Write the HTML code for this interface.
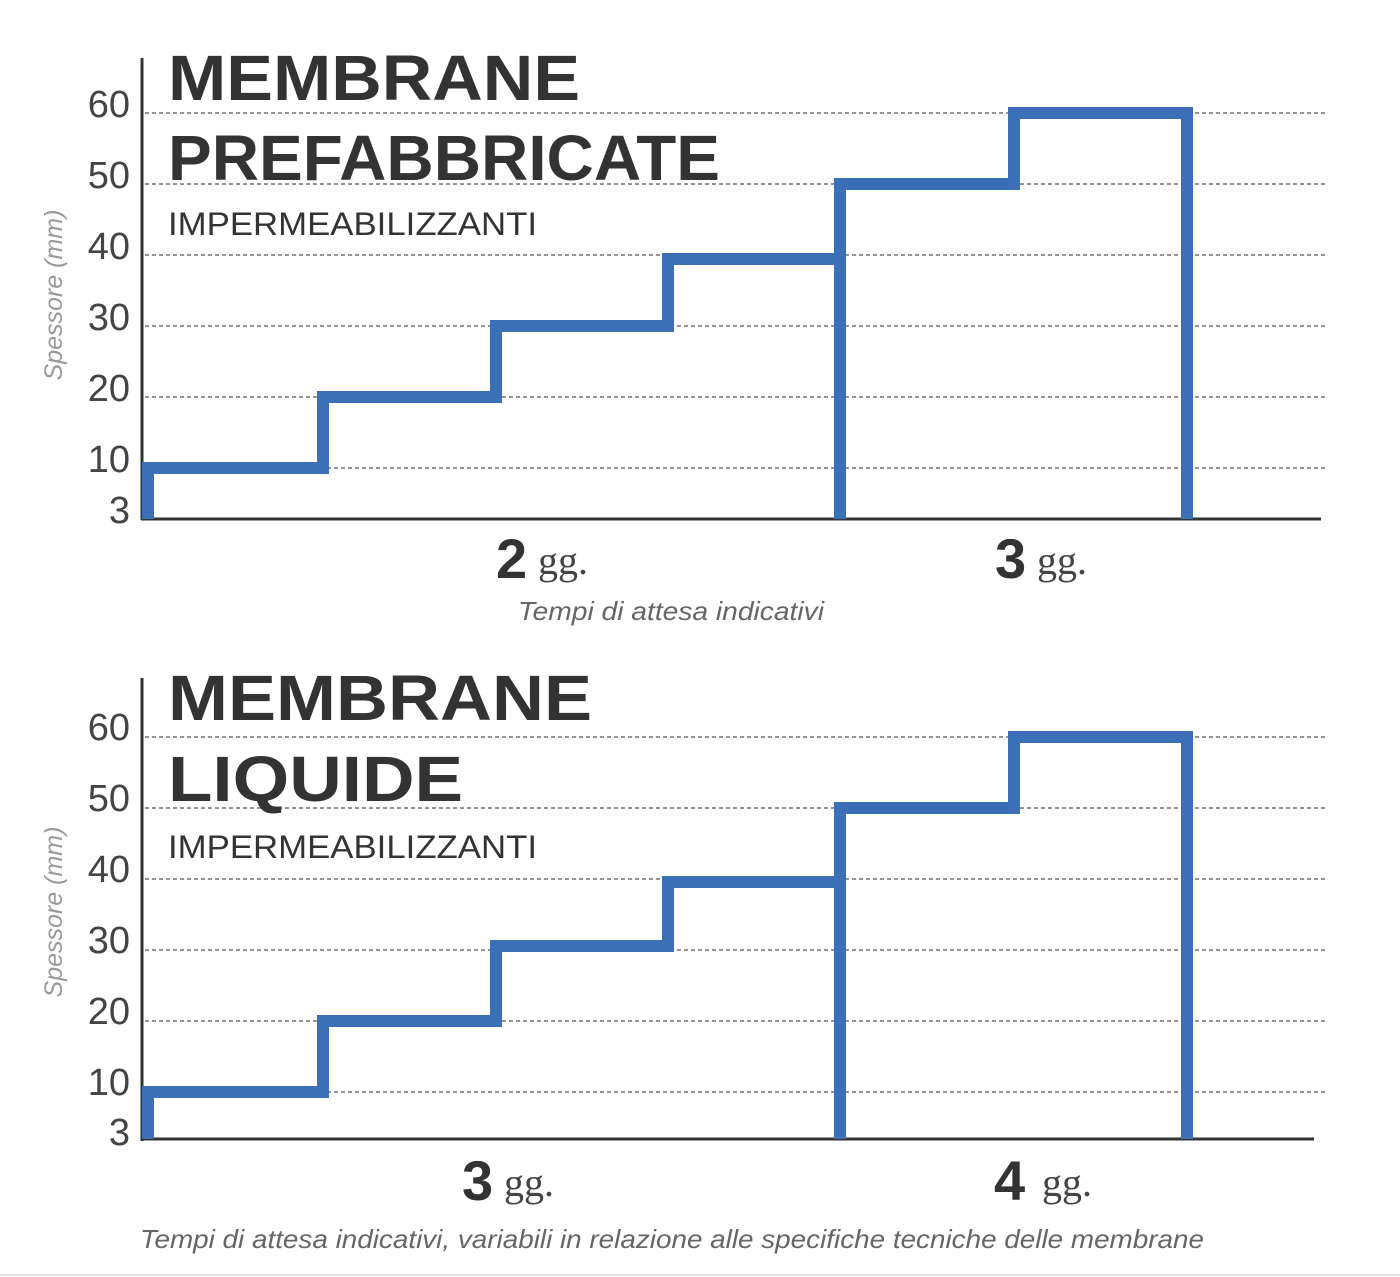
<!DOCTYPE html>
<html><head><meta charset="utf-8"><style>
html,body{margin:0;padding:0;background:#fff;}
svg{display:block;}
</style></head><body>
<svg width="1400" height="1277" viewBox="0 0 1400 1277" xmlns="http://www.w3.org/2000/svg" font-family="Liberation Sans, sans-serif">
<rect width="1400" height="1277" fill="#fff"/>
<g id="top">
  <g stroke="#555" stroke-width="1.3" stroke-dasharray="4,3">
    <line x1="145" y1="113" x2="1325" y2="113"/>
    <line x1="145" y1="184" x2="1325" y2="184"/>
    <line x1="145" y1="255" x2="1325" y2="255"/>
    <line x1="145" y1="326" x2="1325" y2="326"/>
    <line x1="145" y1="397" x2="1325" y2="397"/>
    <line x1="145" y1="468" x2="1325" y2="468"/>
  </g>
  <line x1="142" y1="58" x2="142" y2="520" stroke="#333" stroke-width="3"/>
  <line x1="141" y1="519" x2="1321" y2="519" stroke="#333" stroke-width="3"/>
  <g fill="#444" font-size="38" text-anchor="end">
    <text x="130" y="117">60</text><text x="130" y="188">50</text><text x="130" y="259">40</text>
    <text x="130" y="330">30</text><text x="130" y="401">20</text><text x="130" y="472">10</text><text x="130" y="523">3</text>
  </g>
  <text transform="translate(62,295) rotate(-90)" text-anchor="middle" font-size="25" font-style="italic" fill="#999">Spessore (mm)</text>
  <g fill="none" stroke="#3b6fb6" stroke-width="12" stroke-linejoin="miter">
    <path d="M148 519 V468 H323 V397 H496 V326 H668 V259 H840"/>
    <path d="M840 519 V184 H1014 V113 H1187 V519"/>
  </g>
  <text x="168" y="100" font-size="64" font-weight="bold" fill="#333" textLength="412" lengthAdjust="spacingAndGlyphs">MEMBRANE</text>
  <text x="168" y="180" font-size="64" font-weight="bold" fill="#333" textLength="552" lengthAdjust="spacingAndGlyphs">PREFABBRICATE</text>
  <text x="168" y="235" font-size="32" fill="#333" textLength="369" lengthAdjust="spacingAndGlyphs">IMPERMEABILIZZANTI</text>
  <text x="496" y="578" font-size="56" font-weight="bold" fill="#333">2</text>
  <text x="538" y="574" font-size="40" fill="#444" font-family="Liberation Serif, serif">gg.</text>
  <text x="995" y="578" font-size="56" font-weight="bold" fill="#333">3</text>
  <text x="1037" y="574" font-size="40" fill="#444" font-family="Liberation Serif, serif">gg.</text>
  <text x="518" y="620" font-size="26" font-style="italic" fill="#666" textLength="306" lengthAdjust="spacingAndGlyphs">Tempi di attesa indicativi</text>
</g>
<g id="bottom">
  <g stroke="#555" stroke-width="1.3" stroke-dasharray="4,3">
    <line x1="145" y1="737" x2="1325" y2="737"/>
    <line x1="145" y1="808" x2="1325" y2="808"/>
    <line x1="145" y1="879" x2="1325" y2="879"/>
    <line x1="145" y1="950" x2="1325" y2="950"/>
    <line x1="145" y1="1021" x2="1325" y2="1021"/>
    <line x1="145" y1="1092" x2="1325" y2="1092"/>
  </g>
  <line x1="142" y1="678" x2="142" y2="1141" stroke="#333" stroke-width="3"/>
  <line x1="141" y1="1139" x2="1314" y2="1139" stroke="#333" stroke-width="3"/>
  <g fill="#444" font-size="38" text-anchor="end">
    <text x="130" y="740">60</text><text x="130" y="811">50</text><text x="130" y="882">40</text>
    <text x="130" y="953">30</text><text x="130" y="1024">20</text><text x="130" y="1095">10</text><text x="130" y="1145">3</text>
  </g>
  <text transform="translate(62,912) rotate(-90)" text-anchor="middle" font-size="25" font-style="italic" fill="#999">Spessore (mm)</text>
  <g fill="none" stroke="#3b6fb6" stroke-width="12" stroke-linejoin="miter">
    <path d="M148 1139 V1092 H323 V1021 H496 V946 H668 V882 H840"/>
    <path d="M840 1139 V808 H1014 V737 H1187 V1139"/>
  </g>
  <text x="168" y="720" font-size="64" font-weight="bold" fill="#333" textLength="424" lengthAdjust="spacingAndGlyphs">MEMBRANE</text>
  <text x="168" y="801" font-size="64" font-weight="bold" fill="#333" textLength="295" lengthAdjust="spacingAndGlyphs">LIQUIDE</text>
  <text x="168" y="858" font-size="32" fill="#333" textLength="369" lengthAdjust="spacingAndGlyphs">IMPERMEABILIZZANTI</text>
  <text x="462" y="1200" font-size="56" font-weight="bold" fill="#333">3</text>
  <text x="504" y="1196" font-size="40" fill="#444" font-family="Liberation Serif, serif">gg.</text>
  <text x="994" y="1200" font-size="56" font-weight="bold" fill="#333">4</text>
  <text x="1042" y="1196" font-size="40" fill="#444" font-family="Liberation Serif, serif">gg.</text>
  <text x="140" y="1248" font-size="26" font-style="italic" fill="#666" textLength="1064" lengthAdjust="spacingAndGlyphs">Tempi di attesa indicativi, variabili in relazione alle specifiche tecniche delle membrane</text>
</g>
<line x1="0" y1="1275" x2="1400" y2="1275" stroke="#e6e6e6" stroke-width="2"/>
</svg>
</body></html>
